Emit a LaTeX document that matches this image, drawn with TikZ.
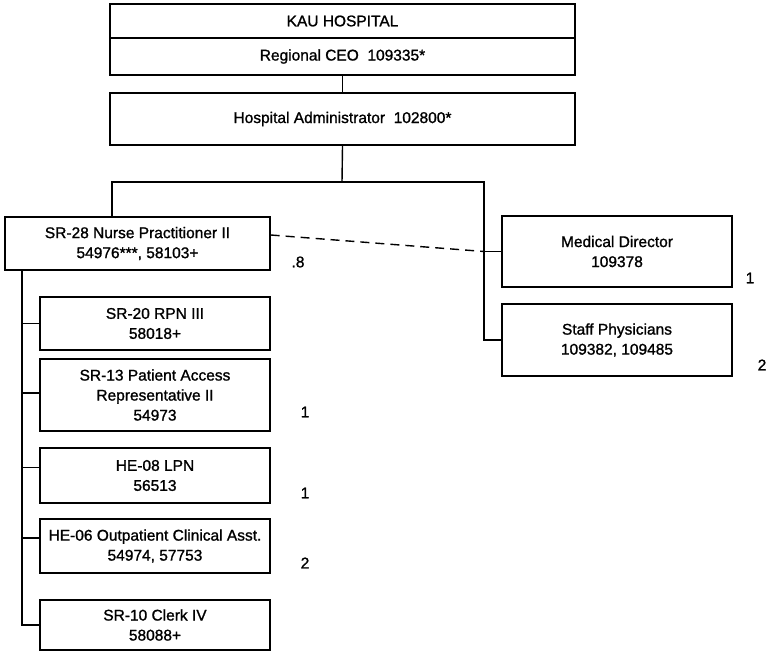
\documentclass[tikz,border=0pt]{standalone}
\usepackage{fontspec}
\setmainfont{Liberation Sans}
\newfontfamily\orgfont[FakeBold=1.2]{Liberation Sans}
\begin{document}
\begin{tikzpicture}[x=1pt,y=-1pt,
  orgbox/.style={draw, line width=1.4pt, inner sep=0pt, align=center,
    font=\orgfont\fontsize{15.5}{20}\selectfont},
  conn/.style={line width=1.4pt},
  num/.style={font=\orgfont\fontsize{15.5}{20}\selectfont, inner sep=0pt}]
\useasboundingbox (0,0) rectangle (775,652);
% top boxes
\node[orgbox, minimum width=465pt, minimum height=34pt] (kau) at (342.5,21) {KAU HOSPITAL};
\node[orgbox, minimum width=465pt, minimum height=37pt] (ceo) at (342.5,56.5) {Regional CEO\ \ 109335*};
\node[orgbox, minimum width=465pt, minimum height=52pt] (admin) at (342.5,119) {Hospital Administrator\ \ 102800*};
% second level
\node[orgbox, minimum width=265pt, minimum height=53pt] (sr28) at (137.5,243.5) {SR-28 Nurse Practitioner II\\54976***, 58103+};
\node[orgbox, minimum width=230pt, minimum height=71pt] (md) at (617,251.5) {Medical Director\\109378};
\node[orgbox, minimum width=230pt, minimum height=72pt] (staff) at (617,340) {Staff Physicians\\109382, 109485};
% left column
\node[orgbox, minimum width=230pt, minimum height=53pt] (sr20) at (155,323.5) {SR-20 RPN III\\58018+};
\node[orgbox, minimum width=230pt, minimum height=72pt] (sr13) at (155,395) {SR-13 Patient Access\\Representative II\\54973};
\node[orgbox, minimum width=230pt, minimum height=55pt] (he08) at (155,475.5) {HE-08 LPN\\56513};
\node[orgbox, minimum width=230pt, minimum height=54pt] (he06) at (155,546) {HE-06 Outpatient Clinical Asst.\\54974, 57753};
\node[orgbox, minimum width=230pt, minimum height=50pt] (sr10) at (155,625) {SR-10 Clerk IV\\58088+};
% numbers
\node[num] (n8) at (298,262) {.8};
\node[num] (nmd) at (750,278) {1};
\node[num] (nst) at (762,365) {2};
\node[num] (n13) at (305,412) {1};
\node[num] (n08) at (305,493) {1};
\node[num] (n06) at (305,563) {2};
% connectors
\coordinate (hub) at (342,182);
\coordinate (hl) at (112,182);
\coordinate (hr) at (484,182);
\coordinate (lt) at (22,270);
\draw[conn] (ceo.south) -- (admin.north);
\draw[conn] (admin.south) -- (hub);
\draw[conn] (hl |- sr28.north) -- (hl) -- (hr) -- (hr |- staff.west) -- (staff.west);
\draw[conn] (hr |- md.west) -- (md.west);
\draw[conn, dash pattern=on 9pt off 6pt] ([yshift=8.5pt]sr28.east) -- (hr |- md.west);
\draw[conn] (lt |- sr28.south) -- (lt |- sr10.west) -- (sr10.west);
\draw[conn] (lt |- sr20.west) -- (sr20.west);
\draw[conn] ([yshift=2pt]sr13.west -| lt) -- ([yshift=2pt]sr13.west);
\draw[conn] ([yshift=8pt]he08.west -| lt) -- ([yshift=8pt]he08.west);
\draw[conn] ([yshift=8pt]he06.west -| lt) -- ([yshift=8pt]he06.west);
\end{tikzpicture}
\end{document}
